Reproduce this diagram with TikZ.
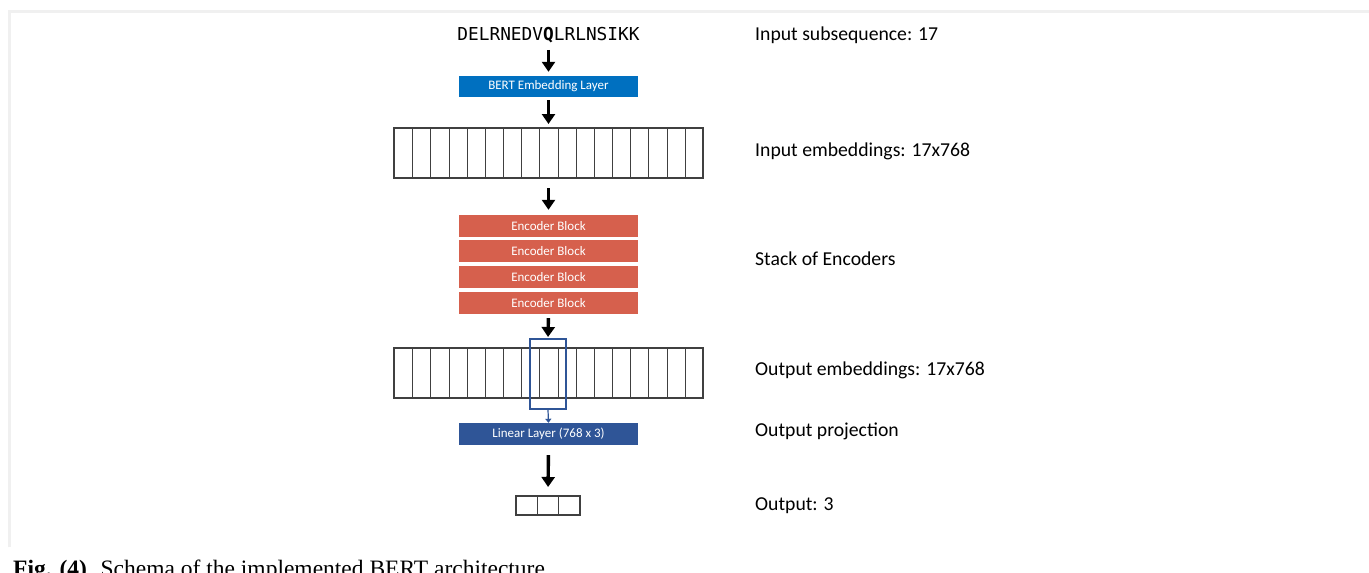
\documentclass[tikz,border=0pt]{standalone}
\usepackage{fontspec}
\setmainfont{Carlito}
\newfontfamily\seqfont{DejaVu Sans Mono}
\newfontfamily\capfont{Liberation Serif}
\usetikzlibrary{arrows.meta,positioning}
\definecolor{bertblue}{HTML}{0070C0}
\definecolor{encred}{HTML}{D6604D}
\definecolor{linblue}{HTML}{2F5597}
\definecolor{framegray}{HTML}{F0F0F0}

\begin{document}
\begin{tikzpicture}[
                x=1pt,y=-1pt,
                layerbox/.style={minimum width=179pt,minimum height=22pt,inner sep=0pt,
                    text=white,font=\fontsize{13}{13}\selectfont},
                cellrow/.style={draw=black!75,line width=1.3pt,minimum height=50pt,inner sep=0pt,outer sep=0pt},
                cellline/.style={draw=black!75,line width=1.3pt},
                bigarrow/.style={line width=3.4pt,-{Triangle[width=13pt,length=10pt]}},
                sidelabel/.style={anchor=base west,inner sep=0pt,font=\fontsize{19.7}{20}\selectfont}
            ]
                \useasboundingbox (0,0) rectangle (1369,573);
                \fill[white] (0,0) rectangle (1369,573);
                \draw[framegray,line width=3pt] (9.5,547) -- (9.5,11.3) -- (1369,11.3);

                % main column
                \node (seq) [anchor=base,inner sep=0pt,text depth=0pt,font=\seqfont\fontsize{17.8}{18}\selectfont]
                    at (548.5,40.7) {DELRNEDV\textbf{Q}LRLNSIKK};
                \node (embed) [layerbox,fill=bertblue,minimum height=21pt] at (548.5,86.5) {BERT Embedding Layer};
                \node (inrow) [cellrow,minimum width=309pt] at (548.5,153) {};
                \node (enc1) [layerbox,fill=encred] at (548.5,226) {Encoder Block};
                \node (enc2) [layerbox,fill=encred] at (548.5,251) {Encoder Block};
                \node (enc3) [layerbox,fill=encred] at (548.5,277) {Encoder Block};
                \node (enc4) [layerbox,fill=encred] at (548.5,303) {Encoder Block};
                \node (outrow) [cellrow,minimum width=309pt] at (548.5,373) {};
                \node (linear) [layerbox,fill=linblue] at (548.5,434) {Linear Layer (768 x 3)};
                \node (result) [cellrow,minimum width=64pt,minimum height=19pt] at (548,505.5) {};

                \foreach \i in {1,...,16} {
                    \pgfmathsetmacro\cx{round(\i*18.176)+0.5}
                    \draw[cellline] ([xshift=\cx pt]inrow.north west) -- ([xshift=\cx pt]inrow.south west);
                    \draw[cellline] ([xshift=\cx pt]outrow.north west) -- ([xshift=\cx pt]outrow.south west);
                }
                \foreach \i in {1,2}
                    \draw[cellline] ([xshift=\i*21.33pt]result.north west) -- ([xshift=\i*21.33pt]result.south west);

                \node (focus) [draw=linblue,line width=2pt,minimum width=36pt,minimum height=70pt,inner sep=0pt]
                    at (548,374) {};

                % arrows
                \draw[bigarrow,shorten <=9pt,shorten >=4pt] (seq.south) -- (embed.north);
                \draw[bigarrow,shorten <=3pt,shorten >=4pt] (embed.south) -- (inrow.north);
                \draw[bigarrow,shorten <=10pt,shorten >=5pt] (inrow.south) -- (enc1.north);
                \draw[bigarrow,shorten <=4pt,shorten >=1pt] (enc4.south) -- (focus.north);
                \draw[linblue,line width=1.2pt,-{Triangle[width=6pt,length=4pt]}] (focus.south) -- (linear.north);
                \draw[bigarrow,shorten <=10pt,shorten >=9pt] (linear.south) -- (result.north);

                % labels on the right
                \node (lseq)  [sidelabel] at (755,40.7)  {Input subsequence: 17};
                \node (lin)   [sidelabel] at (755,156)   {Input embeddings: 17x768};
                \node (lenc)  [sidelabel] at (755,265.5) {Stack of Encoders};
                \node (lout)  [sidelabel] at (755,375.5) {Output embeddings: 17x768};
                \node (lproj) [sidelabel] at (755,436.5) {Output projection};
                \node (lres)  [sidelabel] at (755,510.7) {Output: 3};

                \node (caption) [anchor=base west,inner sep=0pt,font=\capfont\fontsize{23.5}{24}\selectfont]
                    at (13,576) {\textbf{Fig. (4)}. Schema of the implemented BERT architecture.};
            \end{tikzpicture}
\end{document}
